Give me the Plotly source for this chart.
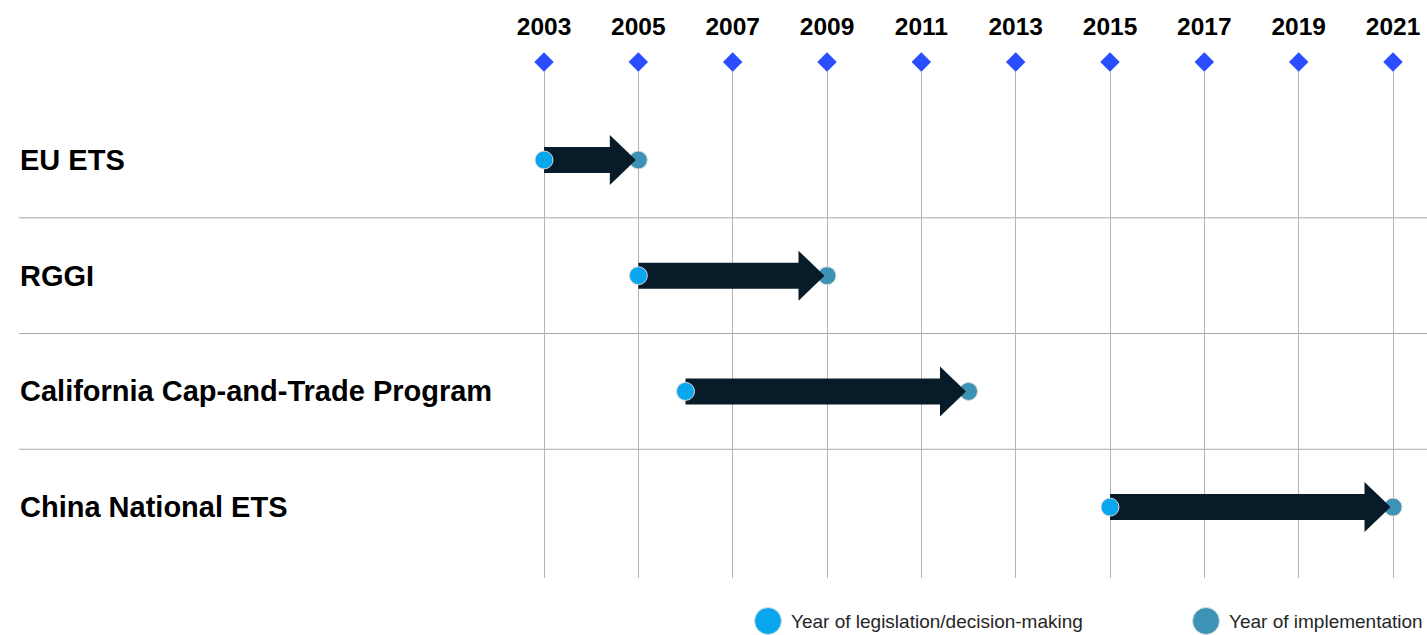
import plotly.graph_objects as go

# ---------------- data ----------------
programs = ["EU ETS", "RGGI", "California Cap-and-Trade Program", "China National ETS"]
legislation_year = [2003, 2005, 2006, 2015]
implementation_year = [2005, 2009, 2012, 2021]
tick_years = [2003, 2005, 2007, 2009, 2011, 2013, 2015, 2017, 2019, 2021]
legend_labels = ["Year of legislation/decision-making", "Year of implementation"]

# ---------------- styles ----------------
W, H = 1427, 635
FONT = "Liberation Sans, Arial, sans-serif"
C_START = "#0AA6F0"
C_END = "#3D93B5"
C_ARROW = "#081B29"
C_DIAMOND = "#2A4DFF"
C_GRID = "#b4b4b4"
C_SEP = "#a6a6a6"

M_TOP, M_BOT = 62, 57
px_first, px_last = 544, 1393  # pixel positions of first / last tick
k = (px_last - px_first) / (tick_years[-1] - tick_years[0])  # px per year
x_range = [tick_years[0] - px_first / k, tick_years[0] + (W - px_first) / k]

plot_h = H - M_TOP - M_BOT
row_px = 115.7
row0_px = 160 - M_TOP
y_top = -row0_px / row_px
y_bot = y_top + plot_h / row_px
y_range = [y_bot, y_top]

shaft_half = 13 / row_px
head_half = 25 / row_px
head_len = 26 / k
tip_gap = 2.5 / k

fig = go.Figure()

# end dots (drawn under arrow tips)
fig.add_trace(go.Scatter(
    x=implementation_year, y=list(range(len(programs))), mode="markers",
    marker=dict(size=18, color=C_END, line=dict(color="#d8d8d8", width=1)),
    showlegend=False, hoverinfo="skip"))

# arrows as filled polygons
for i, (s, e) in enumerate(zip(legislation_year, implementation_year)):
    tip = e - tip_gap
    base = tip - head_len
    xs = [s, base, base, tip, base, base, s, s]
    ys = [i - shaft_half, i - shaft_half, i - head_half, i, i + head_half,
          i + shaft_half, i + shaft_half, i - shaft_half]
    fig.add_trace(go.Scatter(x=xs, y=ys, mode="lines", fill="toself",
                             fillcolor=C_ARROW, line=dict(width=0, color=C_ARROW),
                             showlegend=False, hoverinfo="skip"))

# start dots
fig.add_trace(go.Scatter(
    x=legislation_year, y=list(range(len(programs))), mode="markers",
    marker=dict(size=18, color=C_START, line=dict(color="#d8d8d8", width=1)),
    showlegend=False, hoverinfo="skip"))

# diamonds at the top of each year line
fig.add_trace(go.Scatter(
    x=tick_years, y=[y_top] * len(tick_years), mode="markers", cliponaxis=False,
    marker=dict(symbol="diamond", size=15, color=C_DIAMOND, line=dict(width=0)),
    showlegend=False, hoverinfo="skip"))

shapes = []
# row separators
for i in range(len(programs) - 1):
    shapes.append(dict(type="line", xref="paper", yref="y", x0=19 / W, x1=1,
                       y0=i + 0.5, y1=i + 0.5, line=dict(color=C_SEP, width=1),
                       layer="below"))

annotations = []
for i, name in enumerate(programs):
    annotations.append(dict(text=name, xref="paper", yref="y", x=18 / W, y=i,
                            xanchor="left", yanchor="middle", showarrow=False,
                            font=dict(family=FONT, size=29, color="#000000",
                                      weight="bold")))

# legend (manual)
leg_y_paper = -(621 - (H - M_BOT)) / plot_h
for cx, col, lab in zip([768, 1206], [C_START, C_END], legend_labels):
    shapes.append(dict(type="circle", xref="paper", yref="paper",
                       xsizemode="pixel", ysizemode="pixel",
                       xanchor=cx / W, yanchor=leg_y_paper,
                       x0=-13.5, x1=13.5, y0=-13.5, y1=13.5,
                       fillcolor=col, line=dict(color="#e0e0e0", width=1)))
    annotations.append(dict(text=lab, xref="paper", yref="paper",
                            x=(cx + 21) / W, y=leg_y_paper, xanchor="left",
                            yanchor="middle", showarrow=False,
                            font=dict(family=FONT, size=19, color="#262626")))

fig.update_layout(
    width=W, height=H,
    margin=dict(l=0, r=0, t=M_TOP, b=M_BOT, pad=0),
    paper_bgcolor="white", plot_bgcolor="white",
    showlegend=False,
    shapes=shapes, annotations=annotations,
    xaxis=dict(range=x_range, side="top", tickvals=tick_years,
               ticktext=[str(y) for y in tick_years],
               showgrid=True, gridcolor=C_GRID, gridwidth=1,
               zeroline=False, showline=False, ticks="",
               ticklabelstandoff=21,
               tickfont=dict(family=FONT, size=24.5, color="#000000", weight="bold"),
               fixedrange=True),
    yaxis=dict(range=y_range, showgrid=False, zeroline=False, showline=False,
               showticklabels=False, ticks="", fixedrange=True),
)

fig.write_html("out.html", config={"displayModeBar": False})
